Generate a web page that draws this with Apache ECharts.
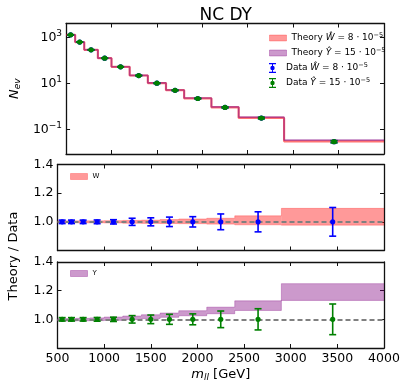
<!DOCTYPE html>
<html>
<head>
<meta charset="utf-8">
<script src="https://cdn.jsdelivr.net/npm/echarts@6/dist/echarts.min.js"></script>
<style>html,body{margin:0;padding:0;background:#fff}#chart{width:407px;height:387px}</style>
</head>
<body>
<div id="chart"></div>
<script>
// bins in m_ll [GeV]
var binEdges = [500, 600, 700, 850, 1000, 1200, 1400, 1600, 1800, 2100, 2400, 2900, 4000];
var binCenters = [550, 650, 775, 925, 1100, 1300, 1500, 1700, 1950, 2250, 2650, 3450];
// event counts
var dataN = [1300, 630, 290, 125, 53, 22, 10.2, 5.0, 2.2, 0.9, 0.31, 0.029];
var theoryW = [1310, 630, 290, 125, 53, 22.1, 10.3, 5.05, 2.22, 0.91, 0.315, 0.030];
var theoryY = [1310, 630, 291, 126, 53.5, 22.4, 10.5, 5.2, 2.3, 0.95, 0.34, 0.034];
// relative data errors
var errW = [0.012, 0.012, 0.012, 0.013, 0.015, 0.025, 0.028, 0.033, 0.036, 0.055, 0.07, 0.1];
var errY = [0.012, 0.012, 0.012, 0.013, 0.015, 0.026, 0.03, 0.035, 0.038, 0.058, 0.074, 0.107];
// theory / data bands
var wLo = [0.993, 0.993, 0.993, 0.993, 0.992, 0.99, 0.989, 0.988, 0.987, 0.984, 0.979, 0.977];
var wHi = [1.007, 1.007, 1.007, 1.007, 1.008, 1.01, 1.012, 1.016, 1.02, 1.025, 1.042, 1.094];
var yLo = [0.988, 0.988, 0.99, 0.991, 0.993, 0.998, 1.005, 1.014, 1.025, 1.039, 1.062, 1.132];
var yHi = [1.005, 1.005, 1.007, 1.01, 1.016, 1.023, 1.032, 1.044, 1.06, 1.085, 1.129, 1.249];
var logTicks = [0.1, 10, 1000];

(function () {
  var F = 'DejaVu Sans';
  var ink = '#000';
  var frame = { show: true, lineStyle: { color: '#111', width: 1.3 } };
  var tick = { show: true, inside: true, length: 4, lineStyle: { color: '#111', width: 1 } };

  var grids = [
    { left: 57.5, top: 23.5, width: 326.5, height: 130.5 },
    { left: 57.5, top: 164.5, width: 326.5, height: 86 },
    { left: 57.5, top: 262, width: 326.5, height: 86 }
  ];

  var xAxes = [], yAxes = [];
  grids.forEach(function (g, gi) {
    var last = gi === 2;
    xAxes.push({
      type: 'value', gridIndex: gi, min: 500, max: 4000, interval: 500,
      axisLine: frame, axisTick: tick, splitLine: { show: false },
      axisLabel: { show: last, color: ink, fontFamily: F, fontSize: 12.5, margin: 4,
        formatter: function (v) { return String(v); } },
      name: last ? '{i|m}{sub|ll}{t| [GeV]}' : '', nameLocation: 'middle', nameGap: 19,
      nameTextStyle: { color: ink, fontFamily: F, fontSize: 13, rich: {
        i: { fontStyle: 'italic', fontSize: 13, fontFamily: F, color: ink },
        sub: { fontStyle: 'italic', fontSize: 9, fontFamily: F, color: ink, padding: [6, 0, 0, 0] },
        t: { fontSize: 13, fontFamily: F, color: ink }
      } }
    });
    xAxes.push({
      type: 'value', gridIndex: gi, position: 'top', min: 500, max: 4000, interval: 500,
      axisLine: frame, axisTick: tick, splitLine: { show: false }, axisLabel: { show: false }
    });
  });

  var logLabelRich = {
    b: { fontSize: 12.5, fontFamily: F, color: ink },
    s: { fontSize: 9, fontFamily: F, color: ink, padding: [0, 0, 7, 0] }
  };
  [0, 1].forEach(function (side) {
    yAxes.push({
      type: 'log', gridIndex: 0, position: side ? 'right' : 'left', min: 0.00843, max: 4064,
      axisLine: frame, splitLine: { show: false }, minorTick: { show: false },
      axisTick: Object.assign({}, tick, { customValues: logTicks }),
      axisLabel: {
        show: !side, customValues: logTicks, margin: 4,
        formatter: function (v) {
          var e = Math.round(Math.log10(v));
          return '{b|10}{s|' + (e < 0 ? '\u2212' + (-e) : e) + '}';
        },
        rich: logLabelRich
      },
      name: side ? '' : '{i|N}{sub|ev}', nameLocation: 'middle', nameGap: 38, nameRotate: 90,
      nameTextStyle: { rich: {
        i: { fontStyle: 'italic', fontSize: 13, fontFamily: F, color: ink },
        sub: { fontStyle: 'italic', fontSize: 9, fontFamily: F, color: ink, padding: [6, 0, 0, 0] }
      } }
    });
  });
  [1, 2].forEach(function (gi) {
    [0, 1].forEach(function (side) {
      yAxes.push({
        type: 'value', gridIndex: gi, position: side ? 'right' : 'left',
        min: 0.8, max: 1.4, interval: 0.2,
        axisLine: frame, axisTick: tick, splitLine: { show: false },
        axisLabel: {
          show: !side, color: ink, fontFamily: F, fontSize: 12.5, margin: 4,
          formatter: function (v) { return v < 0.9 ? '' : v.toFixed(1); }
        }
      });
    });
  });

  function stepData(vals) {
    return binEdges.map(function (e, i) { return [e, vals[Math.min(i, vals.length - 1)]]; });
  }

  function errRender(color) {
    return function (params, api) {
      var x = api.value(0), y = api.value(1), lo = api.value(2), hi = api.value(3);
      var pt = api.coord([x, hi]), pb = api.coord([x, lo]), pc = api.coord([x, y]);
      var st = { stroke: color, lineWidth: 1.6 };
      return { type: 'group', children: [
        { type: 'line', shape: { x1: pt[0], y1: pt[1], x2: pb[0], y2: pb[1] }, style: st },
        { type: 'line', shape: { x1: pt[0] - 3.5, y1: pt[1], x2: pt[0] + 3.5, y2: pt[1] }, style: st },
        { type: 'line', shape: { x1: pb[0] - 3.5, y1: pb[1], x2: pb[0] + 3.5, y2: pb[1] }, style: st },
        { type: 'circle', shape: { cx: pc[0], cy: pc[1], r: 2.6 }, style: { fill: color } }
      ] };
    };
  }

  function bandRender(lo, hi, fill, edge) {
    return function (params, api) {
      var i = params.dataIndex;
      var x0 = api.value(0), x1 = api.value(1);
      var a = api.coord([x0, hi[i]]), b = api.coord([x1, lo[i]]);
      var kids = [
        { type: 'rect', shape: { x: a[0], y: a[1], width: b[0] - a[0], height: b[1] - a[1] }, style: { fill: fill } },
        { type: 'line', shape: { x1: a[0], y1: a[1], x2: b[0], y2: a[1] }, style: { stroke: edge, lineWidth: 1 } },
        { type: 'line', shape: { x1: a[0], y1: b[1], x2: b[0], y2: b[1] }, style: { stroke: edge, lineWidth: 1 } }
      ];
      if (i < lo.length - 1) {
        var nh = api.coord([x1, hi[i + 1]]), nl = api.coord([x1, lo[i + 1]]);
        kids.push({ type: 'line', shape: { x1: b[0], y1: a[1], x2: b[0], y2: nh[1] }, style: { stroke: edge, lineWidth: 1 } });
        kids.push({ type: 'line', shape: { x1: b[0], y1: b[1], x2: b[0], y2: nl[1] }, style: { stroke: edge, lineWidth: 1 } });
      }
      return { type: 'group', children: kids };
    };
  }

  var binRows = binCenters.map(function (c, i) { return [binEdges[i], binEdges[i + 1]]; });
  function errRows(vals, err) {
    return binCenters.map(function (c, i) { return [c, vals[i], vals[i] * (1 - err[i]), vals[i] * (1 + err[i])]; });
  }
  var ones = binCenters.map(function () { return 1; });

  var blue = '#0000ff', green = '#008000';
  var redFill = 'rgba(255,0,0,0.4)', redEdge = 'rgba(255,0,0,0.25)';
  var purFill = 'rgba(128,0,128,0.4)', purEdge = 'rgba(128,0,128,0.3)';
  var refLine = {
    silent: true, symbol: 'none', z: 2, label: { show: false },
    lineStyle: { color: '#808080', type: [5, 3], width: 1.8 }, data: [{ yAxis: 1 }]
  };

  var errIcon = 'path://M0,0 L7,0 L7,1.2 L0,1.2 Z M3,0 L4,0 L4,10 L3,10 Z M0,8.8 L7,8.8 L7,10 L0,10 Z M1.3,5 A2.2,2.2 0 1,1 5.7,5 A2.2,2.2 0 1,1 1.3,5 Z';
  var legendLabels = {
    'Theory W': '{t|Theory }{i|\u0174}{t| = 8 \u00b7 10}{s|\u22125}',
    'Theory Y': '{t|Theory }{i|\u0176}{t| = 15 \u00b7 10}{s|\u22125}',
    'Data W': '{t|Data }{i|\u0174}{t| = 8 \u00b7 10}{s|\u22125}',
    'Data Y': '{t|Data }{i|\u0176}{t| = 15 \u00b7 10}{s|\u22125}',
    'W': '{w|W}', 'Y': '{w|Y}'
  };
  var legendRich = {
    t: { fontSize: 9, fontFamily: F, color: ink },
    i: { fontSize: 9, fontFamily: F, color: ink, fontStyle: 'italic' },
    s: { fontSize: 6.5, fontFamily: F, color: ink, padding: [0, 0, 5, 0] },
    w: { fontSize: 7, fontFamily: F, color: ink }
  };
  function legendAt(left, top, item, w, h) {
    return {
      left: left, top: top, itemWidth: w, itemHeight: h, itemGap: 0, selectedMode: false,
      symbolKeepAspect: true, padding: 0,
      formatter: function (n) { return legendLabels[n]; },
      textStyle: { rich: legendRich },
      data: [item]
    };
  }

  var chart = echarts.init(document.getElementById('chart'), null, { renderer: 'canvas' });
  chart.setOption({
    animation: false,
    backgroundColor: '#fff',
    title: { text: 'NC DY', left: 220.7, top: 2, textAlign: 'center',
      textStyle: { fontFamily: F, fontSize: 17, fontWeight: 'normal', color: ink } },
    grid: grids,
    xAxis: xAxes,
    yAxis: yAxes,
    legend: [
      legendAt(269, 32, { name: 'Theory W', icon: 'rect', itemStyle: { color: redFill, borderColor: redEdge, borderWidth: 1 } }, 17, 6),
      legendAt(269, 47, { name: 'Theory Y', icon: 'rect', itemStyle: { color: purFill, borderColor: purEdge, borderWidth: 1 } }, 17, 6),
      legendAt(269, 62, { name: 'Data W', icon: errIcon, itemStyle: { color: blue } }, 17, 10),
      legendAt(269, 77, { name: 'Data Y', icon: errIcon, itemStyle: { color: green } }, 17, 10),
      legendAt(70, 173, { name: 'W', icon: 'rect', itemStyle: { color: redFill, borderColor: redEdge, borderWidth: 1 } }, 17, 6),
      legendAt(70, 270, { name: 'Y', icon: 'rect', itemStyle: { color: purFill, borderColor: purEdge, borderWidth: 1 } }, 17, 6)
    ],
    graphic: [{
      type: 'text', x: 14, y: 256, rotation: Math.PI / 2,
      style: { text: 'Theory / Data', fontFamily: F, fontSize: 13, fill: ink, align: 'center', verticalAlign: 'middle' }
    }],
    series: [
      { name: 'Theory W', type: 'line', xAxisIndex: 0, yAxisIndex: 0, step: 'end', showSymbol: false, z: 2,
        data: stepData(theoryW), lineStyle: { color: 'rgba(255,0,0,0.55)', width: 2.2 } },
      { name: 'Theory Y', type: 'line', xAxisIndex: 0, yAxisIndex: 0, step: 'end', showSymbol: false, z: 2,
        data: stepData(theoryY), lineStyle: { color: 'rgba(128,0,128,0.5)', width: 1.6 } },
      { name: 'Data W', type: 'custom', xAxisIndex: 0, yAxisIndex: 0, z: 6,
        renderItem: errRender(blue), encode: { x: 0, y: 1 }, data: errRows(dataN, errW) },
      { name: 'Data Y', type: 'custom', xAxisIndex: 0, yAxisIndex: 0, z: 7,
        renderItem: errRender(green), encode: { x: 0, y: 1 }, data: errRows(dataN, errY) },

      { name: 'W', type: 'custom', xAxisIndex: 2, yAxisIndex: 2, z: 1,
        renderItem: bandRender(wLo, wHi, redFill, redEdge), encode: { x: [0, 1] }, data: binRows },
      { type: 'line', xAxisIndex: 2, yAxisIndex: 2, data: [], markLine: refLine },
      { name: 'ratio W', type: 'custom', xAxisIndex: 2, yAxisIndex: 2, z: 6,
        renderItem: errRender(blue), encode: { x: 0, y: 1 }, data: errRows(ones, errW) },

      { name: 'Y', type: 'custom', xAxisIndex: 4, yAxisIndex: 4, z: 1,
        renderItem: bandRender(yLo, yHi, purFill, purEdge), encode: { x: [0, 1] }, data: binRows },
      { type: 'line', xAxisIndex: 4, yAxisIndex: 4, data: [], markLine: refLine },
      { name: 'ratio Y', type: 'custom', xAxisIndex: 4, yAxisIndex: 4, z: 6,
        renderItem: errRender(green), encode: { x: 0, y: 1 }, data: errRows(ones, errY) }
    ]
  });
  window.addEventListener('resize', function () { chart.resize(); });
})();
</script>
</body>
</html>
